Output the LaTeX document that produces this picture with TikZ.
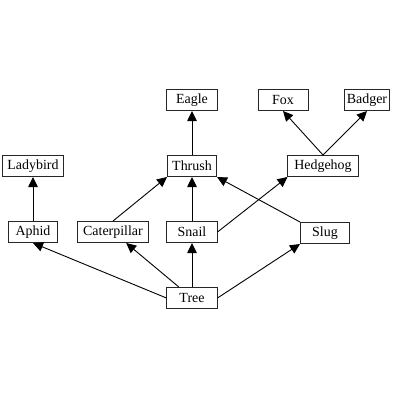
\documentclass[tikz,border=0pt]{standalone}
\usepackage{fontspec}
\setmainfont{Liberation Serif}
\usetikzlibrary{arrows.meta}
\begin{document}
\begin{tikzpicture}[x=1bp,y=-1bp,
  box/.style={draw=black!85,line width=1bp,inner sep=0pt,minimum height=21bp,
    font=\fontsize{14}{16}\selectfont,fill=white},
  arr/.style={line width=0.9bp,-{Triangle[length=10bp,width=9.5bp]}}]
\useasboundingbox (0,0) rectangle (400,400);
\node[box,minimum width=50bp] (eagle) at (192,100) {Eagle};
\node[box,minimum width=50bp] (fox) at (283,100) {Fox};
\node[box,minimum width=45bp] (badger) at (367,100) {Badger};
\node[box,minimum width=60bp] (ladybird) at (33,166) {Ladybird};
\node[box,minimum width=49bp] (thrush) at (192,166) {Thrush};
\node[box,minimum width=70bp] (hedgehog) at (323,166) {Hedgehog};
\node[box,minimum width=48bp] (aphid) at (33,232) {Aphid};
\node[box,minimum width=71bp] (caterpillar) at (113,232) {Caterpillar};
\node[box,minimum width=50bp] (snail) at (192,232) {Snail};
\node[box,minimum width=49bp] (slug) at (325,233) {Slug};
\node[box,minimum width=50bp] (tree) at (192,298) {Tree};
\draw[arr] (aphid) -- (ladybird);
\draw[arr] (caterpillar.north) -- (thrush.south west);
\draw[arr] (snail) -- (thrush);
\draw[arr] (thrush) -- (eagle);
\draw[arr] (snail.east) -- (hedgehog.south west);
\draw[arr] (slug.north west) -- (thrush.south east);
\draw[arr] (hedgehog.north) -- (fox.south);
\draw[arr] (hedgehog.north) -- (badger.south);
\draw[arr] (tree.west) -- (aphid.south);
\draw[arr] (tree) -- (caterpillar);
\draw[arr] (tree) -- (snail);
\draw[arr] (tree.east) -- (slug.south west);
\end{tikzpicture}
\end{document}
